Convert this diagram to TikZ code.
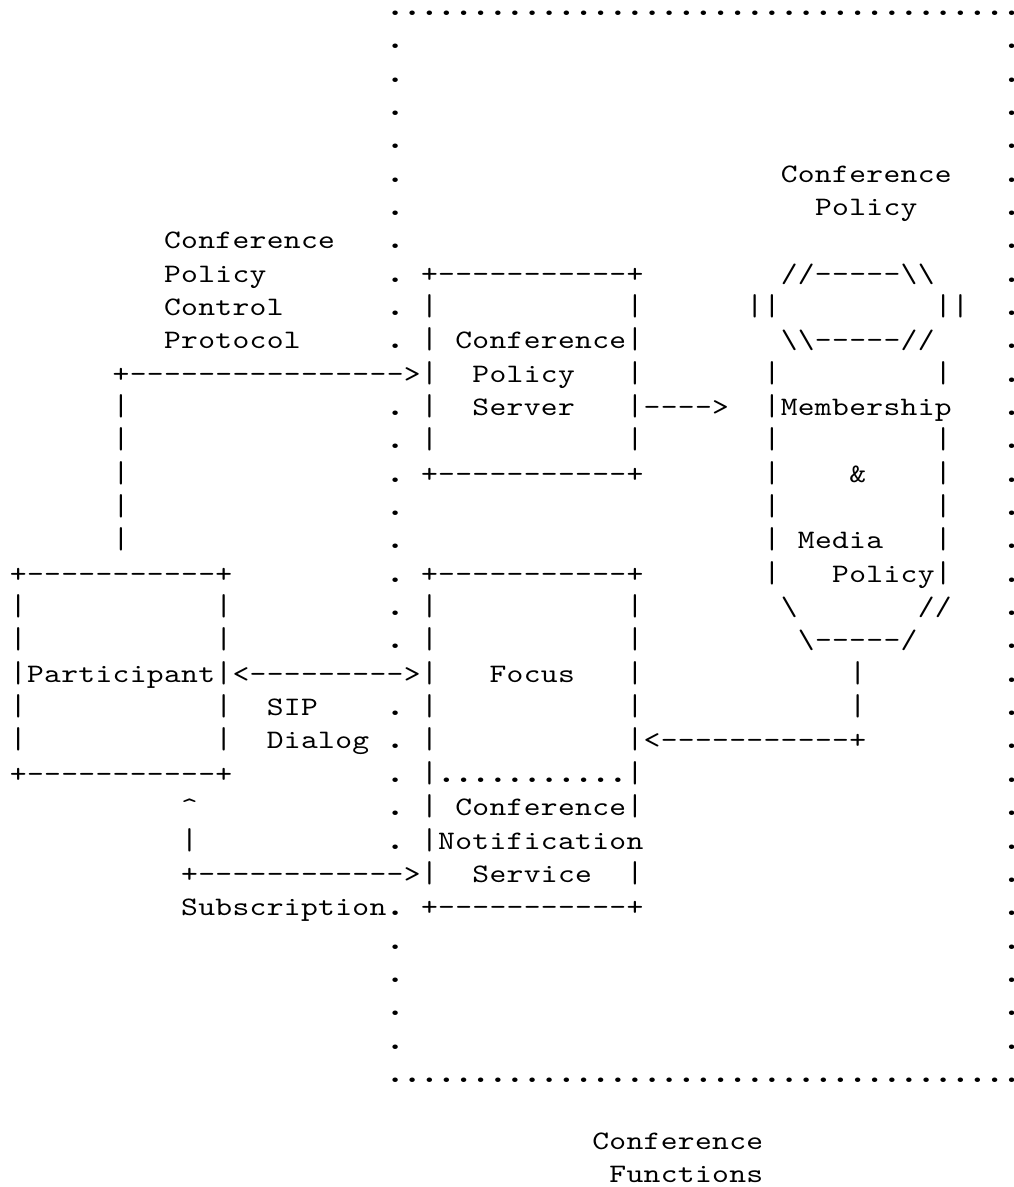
\documentclass[tikz,border=0pt]{standalone}
\usepackage{fontspec}
\usepackage{graphicx}
\newfontfamily\asciifont{lmmono10-regular.otf}[FakeStretch=1.2]
% every character sits in a fixed-width cell of the text grid
\newlength\cellw
\setlength\cellw{12.8475pt}
\ExplSyntaxOn
% bars are drawn a little taller and dots a little bigger
\cs_new:Npn \asc_glyph:n #1
  {
    \tl_if_eq:nnTF {#1} {|}
      { \scalebox{1}[1.13]{|} }
      { \tl_if_eq:nnTF {#1} {.} { \scalebox{1.35}{.} } {#1} }
  }
\NewDocumentCommand \cells { m }
  { \tl_map_inline:nn {#1} { \makebox[\cellw][c]{ \asc_glyph:n {##1} } } }
\ExplSyntaxOff
\tikzset{
  cellrow/.style={inner sep=0pt, outer sep=0pt, anchor=base west,
    font=\asciifont\fontsize{20pt}{25pt}\selectfont},
}
% \seg{name}{row}{column}{characters}
\newcommand\seg[4]{\node[cellrow] (#1) at ({9.73+17.13*#3},{15.5+33.34*#2}) {\cells{#4}};}
% the last column touches the right edge: its dot gets a narrow box
\newcommand\edgedot[2]{\node[cellrow] (#1) at (1004,{15.5+33.34*#2})
  {\makebox[6.75pt][l]{\hspace{5.85pt}\makebox[0pt][c]{\scalebox{1.35}{.}}}};}
\newcommand\bs{\textbackslash}

\begin{document}
\begin{tikzpicture}[x=0.75pt,y=-0.75pt]
\fill[white] (0,0) rectangle (1013,1187);
\useasboundingbox (0,0) rectangle (1013,1187);

% dotted frame of the conference functions
\seg{ftop}{0}{22}{....................................}
\seg{fbot}{32}{22}{....................................}
\foreach \r in {1,2,3,4,5,6,7,8,9,10,12,13,14,15,16,17,18,19,21,22,23,24,25,28,29,30,31}
  {\seg{fl\r}{\r}{22}{.}}
\foreach \r in {0,1,2,3,4,5,6,7,8,9,10,11,12,13,14,15,16,17,18,19,20,21,22,23,24,25,26,27,28,29,30,31,32}
  {\edgedot{fr\r}{\r}}

% conference policy store title
\seg{cpt1}{5}{45}{Conference}
\seg{cpt2}{6}{47}{Policy}

% control protocol label
\seg{cpcp1}{7}{9}{Conference}
\seg{cpcp2}{8}{9}{Policy}
\seg{cpcp3}{9}{9}{Control}
\seg{cpcp4}{10}{9}{Protocol}

% conference policy server box
\seg{cps8}{8}{24}{+-----------+}
\seg{cps9a}{9}{24}{|}
\seg{cps9b}{9}{36}{|}
\seg{cps10}{10}{24}{|~Conference|}
\seg{cpcparrow}{11}{6}{+---------------->|}
\seg{cps11a}{11}{27}{Policy}
\seg{cps11b}{11}{36}{|}
\seg{cps12a}{12}{24}{|}
\seg{cps12b}{12}{27}{Server}
\seg{cpsarrow}{12}{36}{|---->}
\seg{cps13a}{13}{24}{|}
\seg{cps13b}{13}{36}{|}
\seg{cps14}{14}{24}{+-----------+}

% membership and media policy store
\seg{db8}{8}{45}{//-----\bs\bs}
\seg{db9a}{9}{43}{||}
\seg{db9b}{9}{54}{||}
\seg{db10}{10}{45}{\bs\bs-----//}
\seg{db11a}{11}{44}{|}
\seg{db11b}{11}{54}{|}
\seg{db12}{12}{44}{|Membership}
\seg{db13a}{13}{44}{|}
\seg{db13b}{13}{54}{|}
\seg{db14a}{14}{44}{|}
\seg{db14b}{14}{49}{\&}
\seg{db14c}{14}{54}{|}
\seg{db15a}{15}{44}{|}
\seg{db15b}{15}{54}{|}
\seg{db16a}{16}{44}{|}
\seg{db16b}{16}{46}{Media}
\seg{db16c}{16}{54}{|}
\seg{db17a}{17}{44}{|}
\seg{db17b}{17}{48}{Policy|}
\seg{db18a}{18}{45}{\bs}
\seg{db18b}{18}{53}{//}
\seg{db19}{19}{46}{\bs-----/}
\seg{db20}{20}{49}{|}
\seg{db21}{21}{49}{|}

% riser from the participant to the policy control arrow
\foreach \r in {12,13,14,15,16} {\seg{riser\r}{\r}{6}{|}}

% participant box
\seg{p17}{17}{0}{+-----------+}
\seg{p18a}{18}{0}{|}
\seg{p18b}{18}{12}{|}
\seg{p19a}{19}{0}{|}
\seg{p19b}{19}{12}{|}
\seg{p20}{20}{0}{|Participant|<--------->|}
\seg{p21a}{21}{0}{|}
\seg{p21b}{21}{12}{|}
\seg{p22a}{22}{0}{|}
\seg{p22b}{22}{12}{|}
\seg{p23}{23}{0}{+-----------+}
\seg{sip1}{21}{15}{SIP}
\seg{sip2}{22}{15}{Dialog}

% focus box with notification service
\seg{f17}{17}{24}{+-----------+}
\seg{f18a}{18}{24}{|}
\seg{f18b}{18}{36}{|}
\seg{f19a}{19}{24}{|}
\seg{f19b}{19}{36}{|}
\seg{f20a}{20}{28}{Focus}
\seg{f20b}{20}{36}{|}
\seg{f21a}{21}{24}{|}
\seg{f21b}{21}{36}{|}
\seg{f22a}{22}{24}{|}
\seg{f22b}{22}{36}{|<-----------+}
\seg{f23}{23}{24}{|...........|}
\seg{f24}{24}{24}{|~Conference|}
\seg{f25}{25}{24}{|Notification}
\seg{f26a}{26}{27}{Service}
\seg{f26b}{26}{36}{|}
\seg{f27}{27}{24}{+-----------+}

% subscription path
\seg{s24}{24}{10}{\textasciicircum}
\seg{s25}{25}{10}{|}
\seg{s26}{26}{10}{+------------>|}
\seg{s27}{27}{10}{Subscription.}

% frame caption
\seg{cap1}{34}{34}{Conference}
\seg{cap2}{35}{35}{Functions}
\end{tikzpicture}
\end{document}
